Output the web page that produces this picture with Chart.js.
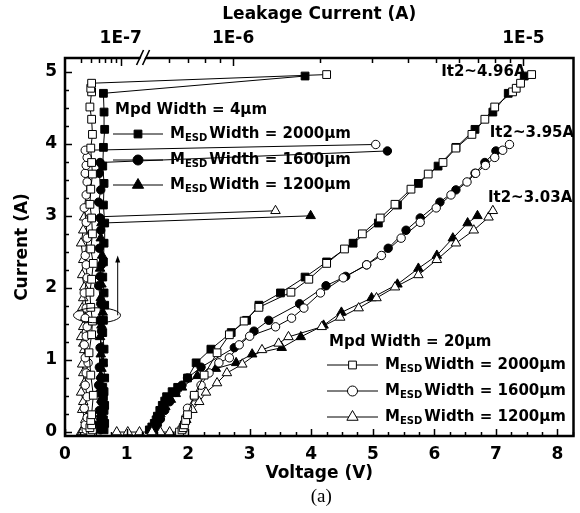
<!DOCTYPE html>
<html><head><meta charset="utf-8">
<script src="https://cdn.jsdelivr.net/npm/chart.js"></script>
<style>html,body{margin:0;padding:0;background:#fff}canvas{display:block}</style>
</head><body>
<canvas id="c" width="580" height="513"></canvas>
<script>
// ---------- data ----------
// Mpd Width = 20um (open markers), I-V (voltage V, current A) and leakage (A) at each pulse
const osV = [1.86,1.90,1.92,1.94,1.96,1.99,2.10,2.26,2.47,2.67,2.91,3.15,3.67,3.96,4.25,4.54,4.83,5.12,5.36,5.62,5.90,6.14,6.35,6.61,6.82,6.98,7.27,7.33,7.40,7.58];
const osI = [0.00,0.03,0.06,0.10,0.16,0.24,0.51,0.79,1.10,1.35,1.54,1.73,1.94,2.12,2.34,2.54,2.75,2.97,3.16,3.37,3.58,3.74,3.94,4.13,4.34,4.51,4.72,4.77,4.84,4.96];
const osLeak = [5.0e-8,5.2e-8,4.9e-8,5.1e-8,5.0e-8,5.1e-8,5.3e-8,5.0e-8,4.8e-8,5.1e-8,5.2e-8,5.0e-8,4.9e-8,5.1e-8,5.3e-8,5.0e-8,5.2e-8,5.1e-8,4.9e-8,5.0e-8,5.2e-8,5.1e-8,5.0e-8,5.2e-8,5.1e-8,4.9e-8,5.1e-8,5.0e-8,5.1e-8,2.1e-6];

const ocV = [1.91,1.93,1.96,1.99,2.10,2.21,2.34,2.50,2.67,2.83,3.00,3.42,3.68,3.88,4.15,4.52,4.90,5.14,5.46,5.77,6.03,6.27,6.53,6.67,6.83,6.98,7.11,7.22];
const ocI = [0.03,0.10,0.20,0.33,0.49,0.65,0.82,0.96,1.03,1.21,1.33,1.46,1.58,1.72,1.93,2.14,2.32,2.45,2.69,2.91,3.11,3.29,3.47,3.59,3.70,3.81,3.91,3.99];
const ocLeak = [4.5e-8,4.4e-8,4.6e-8,4.3e-8,4.6e-8,4.4e-8,4.5e-8,4.7e-8,4.4e-8,4.3e-8,4.5e-8,4.6e-8,4.4e-8,4.5e-8,4.3e-8,4.6e-8,4.5e-8,4.4e-8,4.6e-8,4.5e-8,4.3e-8,4.5e-8,4.6e-8,4.4e-8,4.5e-8,4.6e-8,4.4e-8,3.1e-6];

const otV = [0.84,1.02,1.21,1.41,1.55,1.70,1.85,1.89,1.97,2.07,2.18,2.29,2.47,2.63,2.88,3.20,3.47,3.63,4.17,4.47,4.77,5.06,5.36,5.74,6.04,6.35,6.64,6.88,6.95];
const otI = [0,0,0,0,0,0,0,0.03,0.17,0.31,0.42,0.55,0.68,0.82,0.94,1.14,1.23,1.32,1.46,1.59,1.72,1.86,2.01,2.18,2.39,2.62,2.80,2.98,3.07];
const otLeak = [4.1e-8,4.3e-8,4.2e-8,4.0e-8,4.2e-8,4.3e-8,4.1e-8,4.2e-8,4.4e-8,4.1e-8,4.2e-8,4.0e-8,4.3e-8,4.2e-8,4.1e-8,4.3e-8,4.2e-8,4.0e-8,4.2e-8,4.4e-8,4.1e-8,4.2e-8,4.3e-8,4.1e-8,4.2e-8,4.0e-8,4.2e-8,4.3e-8,1.4e-6];

// Mpd Width = 4um (filled markers)
const fsV = [1.37,1.41,1.45,1.48,1.50,1.54,1.58,1.62,1.65,1.74,1.83,1.99,2.13,2.37,2.70,2.95,3.15,3.50,3.90,4.25,4.68,5.09,5.40,5.74,6.06,6.35,6.66,6.95,7.20,7.46];
const fsI = [0.03,0.07,0.12,0.17,0.22,0.30,0.37,0.43,0.49,0.56,0.62,0.75,0.96,1.15,1.38,1.55,1.76,1.93,2.15,2.36,2.62,2.90,3.15,3.45,3.69,3.95,4.20,4.44,4.70,4.94];
const fsLeak = [6.8e-8,6.6e-8,6.9e-8,6.7e-8,6.5e-8,6.8e-8,6.9e-8,6.6e-8,6.7e-8,6.8e-8,6.6e-8,6.9e-8,6.7e-8,6.8e-8,6.6e-8,6.7e-8,6.9e-8,6.8e-8,6.6e-8,6.7e-8,6.8e-8,6.9e-8,6.7e-8,6.8e-8,6.6e-8,6.7e-8,6.9e-8,6.8e-8,6.7e-8,1.77e-6];

const fcV = [1.45,1.50,1.55,1.62,1.70,1.80,1.90,1.99,2.21,2.75,3.07,3.31,3.81,4.24,4.56,4.90,5.25,5.54,5.77,6.09,6.35,6.66,6.82,7.00];
const fcI = [0.03,0.10,0.18,0.30,0.42,0.55,0.65,0.75,0.90,1.17,1.40,1.55,1.78,2.03,2.16,2.32,2.55,2.80,2.97,3.19,3.36,3.59,3.74,3.90];
const fcLeak = [6.2e-8,6.0e-8,6.3e-8,6.1e-8,6.4e-8,6.2e-8,6.0e-8,6.3e-8,6.1e-8,6.2e-8,6.4e-8,6.1e-8,6.3e-8,6.0e-8,6.2e-8,6.4e-8,6.1e-8,6.3e-8,6.2e-8,6.0e-8,6.3e-8,6.1e-8,6.2e-8,3.4e-6];

const ftV = [1.40,1.45,1.50,1.55,1.63,1.72,1.80,1.90,2.15,2.45,2.78,3.04,3.52,3.83,4.20,4.49,4.98,5.40,5.74,6.04,6.30,6.54,6.70];
const ftI = [0.03,0.10,0.18,0.25,0.35,0.45,0.53,0.62,0.78,0.88,0.96,1.08,1.17,1.32,1.48,1.66,1.86,2.05,2.27,2.45,2.69,2.90,3.00];
const ftLeak = [6.4e-8,6.2e-8,6.5e-8,6.3e-8,6.6e-8,6.4e-8,6.2e-8,6.5e-8,6.3e-8,6.4e-8,6.6e-8,6.3e-8,6.5e-8,6.2e-8,6.4e-8,6.6e-8,6.3e-8,6.4e-8,6.2e-8,6.5e-8,6.3e-8,6.4e-8,1.85e-6];

// top (leakage) axis ticks
const topMajorA = [1e-7, 1e-6, 1e-5];
const topMajorLabels = ['1E-7', '1E-6', '1E-5'];
const topMinorA = [4e-8,5e-8,6e-8,7e-8,8e-8,9e-8,6e-7,7e-7,8e-7,9e-7,2e-6,3e-6,4e-6,5e-6,6e-6,7e-6,8e-6,9e-6];

const it2Labels = ['It2~4.96A', 'It2~3.95A', 'It2~3.03A'];
const it2LabelV = [6.11, 6.90, 6.87];
const it2LabelI = [4.99, 4.15, 3.25];

// ---------- broken log mapping of the top axis (in bottom-axis units) ----------
const LK_E7 = 0.905, LK_DEC_L = 1.616, LK_E6 = 2.730, LK_DEC_R = 4.717, LK_BREAK = 1.276;
function leakAxis(a) {
  const lg = Math.log10(a);
  const u = LK_E7 + LK_DEC_L * (lg + 7);
  if (u <= LK_BREAK) return u;
  return LK_E6 + LK_DEC_R * (lg + 6);
}

const F = 'DejaVu Sans';
const XMAX = 8.26;

function mk(xs, ys, style, filled, axis, order, r) {
  return {
    data: xs.map((v, i) => ({x: v, y: ys[i]})),
    xAxisID: axis, yAxisID: 'y',
    showLine: true, borderColor: '#000', borderWidth: 1,
    pointStyle: style, pointRadius: r, pointHoverRadius: r,
    pointBackgroundColor: filled ? '#000' : '#fff',
    pointBorderColor: '#000', pointBorderWidth: 1,
    order: order, tension: 0, fill: false
  };
}
const RS = 5.5, RC = 4.2, RT = 5.5;
const datasets = [
  mk(osV, osI, 'rect', false, 'x', 1, RS),
  mk(ocV, ocI, 'circle', false, 'x', 2, RC),
  mk(otV, otI, 'triangle', false, 'x', 3, RT),
  mk(fsV, fsI, 'rect', true, 'x', 4, RS),
  mk(fcV, fcI, 'circle', true, 'x', 5, RC),
  mk(ftV, ftI, 'triangle', true, 'x', 6, RT),
  mk(osLeak.map(leakAxis), osI, 'rect', false, 'x2', 7, RS),
  mk(ocLeak.map(leakAxis), ocI, 'circle', false, 'x2', 8, RC),
  mk(otLeak.map(leakAxis), otI, 'triangle', false, 'x2', 9, RT),
  mk(fsLeak.map(leakAxis), fsI, 'rect', true, 'x2', 10, RS),
  mk(fcLeak.map(leakAxis), fcI, 'circle', true, 'x2', 11, RC),
  mk(ftLeak.map(leakAxis), ftI, 'triangle', true, 'x2', 12, RT)
];

const tickFont = {family: F, size: 17, weight: 'bold'};

const decor = {
  id: 'decor',
  afterDatasetsDraw(chart) {
    const {ctx, chartArea: ca, scales} = chart;
    const x = scales.x, y = scales.y, x2 = scales.x2;
    ctx.save();
    ctx.strokeStyle = '#000'; ctx.fillStyle = '#000';
    // inward ticks
    ctx.lineWidth = 1.5;
    ctx.beginPath();
    for (let k = 0; k <= 33; k++) {
      const v = k * 0.25; if (v > XMAX) break;
      const px = Math.round(x.getPixelForValue(v)) + 0.5;
      const L = (k % 4 === 0) ? 7 : 4;
      ctx.moveTo(px, ca.bottom); ctx.lineTo(px, ca.bottom - L);
    }
    for (let k = 0; k <= 20; k++) {
      const v = k * 0.25;
      const py = Math.round(y.getPixelForValue(v)) + 0.5;
      const L = (k % 4 === 0) ? 7 : 4;
      ctx.moveTo(ca.left, py); ctx.lineTo(ca.left + L, py);
    }
    topMajorA.forEach(a => { const px = Math.round(x2.getPixelForValue(leakAxis(a))) + 0.5; ctx.moveTo(px, ca.top); ctx.lineTo(px, ca.top + 8); });
    topMinorA.forEach(a => { const px = Math.round(x2.getPixelForValue(leakAxis(a))) + 0.5; ctx.moveTo(px, ca.top); ctx.lineTo(px, ca.top + 5); });
    ctx.stroke();
    // frame
    ctx.lineWidth = 2.5;
    ctx.strokeRect(ca.left, ca.top, ca.right - ca.left, ca.bottom - ca.top);
    // axis break on top axis
    const bx = x2.getPixelForValue(LK_BREAK);
    ctx.fillStyle = '#fff';
    ctx.beginPath();
    ctx.moveTo(bx - 6, ca.top + 7); ctx.lineTo(bx + 1, ca.top - 8); ctx.lineTo(bx + 5, ca.top - 8); ctx.lineTo(bx - 2, ca.top + 7); ctx.closePath();
    ctx.fill();
    ctx.lineWidth = 1.6;
    ctx.beginPath();
    ctx.moveTo(bx - 7, ca.top + 7); ctx.lineTo(bx, ca.top - 8);
    ctx.moveTo(bx - 1, ca.top + 7); ctx.lineTo(bx + 6, ca.top - 8);
    ctx.stroke();
    ctx.fillStyle = '#000';
    // ellipse + arrow
    const ex = x.getPixelForValue(0.52), ey = y.getPixelForValue(1.62);
    ctx.lineWidth = 1;
    ctx.beginPath(); ctx.ellipse(ex, ey, 23.5, 7.5, 0, 0, Math.PI * 2); ctx.stroke();
    const ax = x.getPixelForValue(0.856), ay0 = ey, ay1 = y.getPixelForValue(2.45);
    ctx.beginPath(); ctx.moveTo(ax, ay0); ctx.lineTo(ax, ay1 + 4); ctx.stroke();
    ctx.beginPath(); ctx.moveTo(ax, ay1); ctx.lineTo(ax - 2.5, ay1 + 7); ctx.lineTo(ax + 2.5, ay1 + 7); ctx.closePath(); ctx.fill();
    // It2 annotations
    ctx.font = 'bold 15px "' + F + '"';
    ctx.textBaseline = 'middle'; ctx.textAlign = 'left';
    it2Labels.forEach((t, i) => ctx.fillText(t, x.getPixelForValue(it2LabelV[i]), y.getPixelForValue(it2LabelI[i])));
    // legends
    const H = 'bold 15px "' + F + '"', S = 'bold 10px "' + F + '"';
    function row(x1, x2p, yy, style, filled, r, txt) {
      ctx.lineWidth = 1; ctx.strokeStyle = '#000';
      ctx.beginPath(); ctx.moveTo(x1, yy); ctx.lineTo(x2p, yy); ctx.stroke();
      ctx.fillStyle = filled ? '#000' : '#fff';
      Chart.helpers.drawPoint(ctx, {pointStyle: style, radius: r, borderWidth: 1, rotation: 0}, (x1 + x2p) / 2, yy);
      ctx.fillStyle = '#000';
      let tx = x2p + 7;
      ctx.font = H; ctx.fillText('M', tx, yy); tx += ctx.measureText('M').width;
      ctx.font = S; ctx.fillText('ESD', tx, yy + 4); tx += ctx.measureText('ESD').width + 2;
      ctx.font = H; ctx.fillText(txt, tx, yy);
    }
    ctx.font = H;
    ctx.fillText('Mpd Width = 4\u00b5m', 115, 110);
    row(113, 163, 134, 'rect', true, 5.5, 'Width = 2000\u00b5m');
    row(113, 163, 160, 'circle', true, 5, 'Width = 1600\u00b5m');
    row(113, 163, 185, 'triangle', true, 6.5, 'Width = 1200\u00b5m');
    ctx.font = H;
    ctx.fillText('Mpd Width = 20\u00b5m', 329, 342);
    row(327, 378, 365, 'rect', false, 5.5, 'Width = 2000\u00b5m');
    row(327, 378, 391, 'circle', false, 5, 'Width = 1600\u00b5m');
    row(327, 378, 417, 'triangle', false, 6.5, 'Width = 1200\u00b5m');
    // caption
    ctx.font = '19px "Liberation Serif"';
    ctx.textAlign = 'center';
    ctx.fillText('(a)', (ca.left + ca.right) / 2 + 2, 497);
    ctx.restore();
  }
};

new Chart(document.getElementById('c'), {
  type: 'scatter',
  data: {datasets},
  options: {
    responsive: false, devicePixelRatio: 1, animation: false,
    layout: {padding: {left: 0, right: 4, top: 0, bottom: 0}},
    plugins: {legend: {display: false}, tooltip: {enabled: false}},
    scales: {
      x: {
        type: 'linear', position: 'bottom', min: 0, max: XMAX,
        ticks: {stepSize: 1, includeBounds: false, color: '#000', font: tickFont, padding: 8, maxRotation: 0},
        grid: {display: false, drawTicks: false}, border: {display: false},
        title: {display: true, text: 'Voltage (V)', color: '#000', font: tickFont, padding: {top: 0, bottom: 29}},
        afterFit(s) { s.height = 77; }
      },
      x2: {
        type: 'linear', position: 'top', min: 0, max: XMAX,
        afterBuildTicks(s) { s.ticks = topMajorA.map(a => ({value: leakAxis(a)})); },
        ticks: {callback: (v, i) => topMajorLabels[i], autoSkip: false, color: '#000', font: tickFont, padding: 9, maxRotation: 0},
        grid: {display: false, drawTicks: false}, border: {display: false},
        title: {display: true, text: 'Leakage Current (A)', color: '#000', font: tickFont, padding: {top: 4, bottom: 0}},
        afterFit(s) { s.height = 58; }
      },
      y: {
        type: 'linear', position: 'left', min: -0.055, max: 5.19,
        ticks: {stepSize: 1, includeBounds: false, color: '#000', font: tickFont, padding: 8},
        grid: {display: false, drawTicks: false}, border: {display: false},
        title: {display: true, text: 'Current (A)', color: '#000', font: tickFont, padding: {top: 12, bottom: 0}},
        afterFit(s) { s.width = 65; }
      }
    }
  },
  plugins: [decor]
});
</script>
</body></html>
